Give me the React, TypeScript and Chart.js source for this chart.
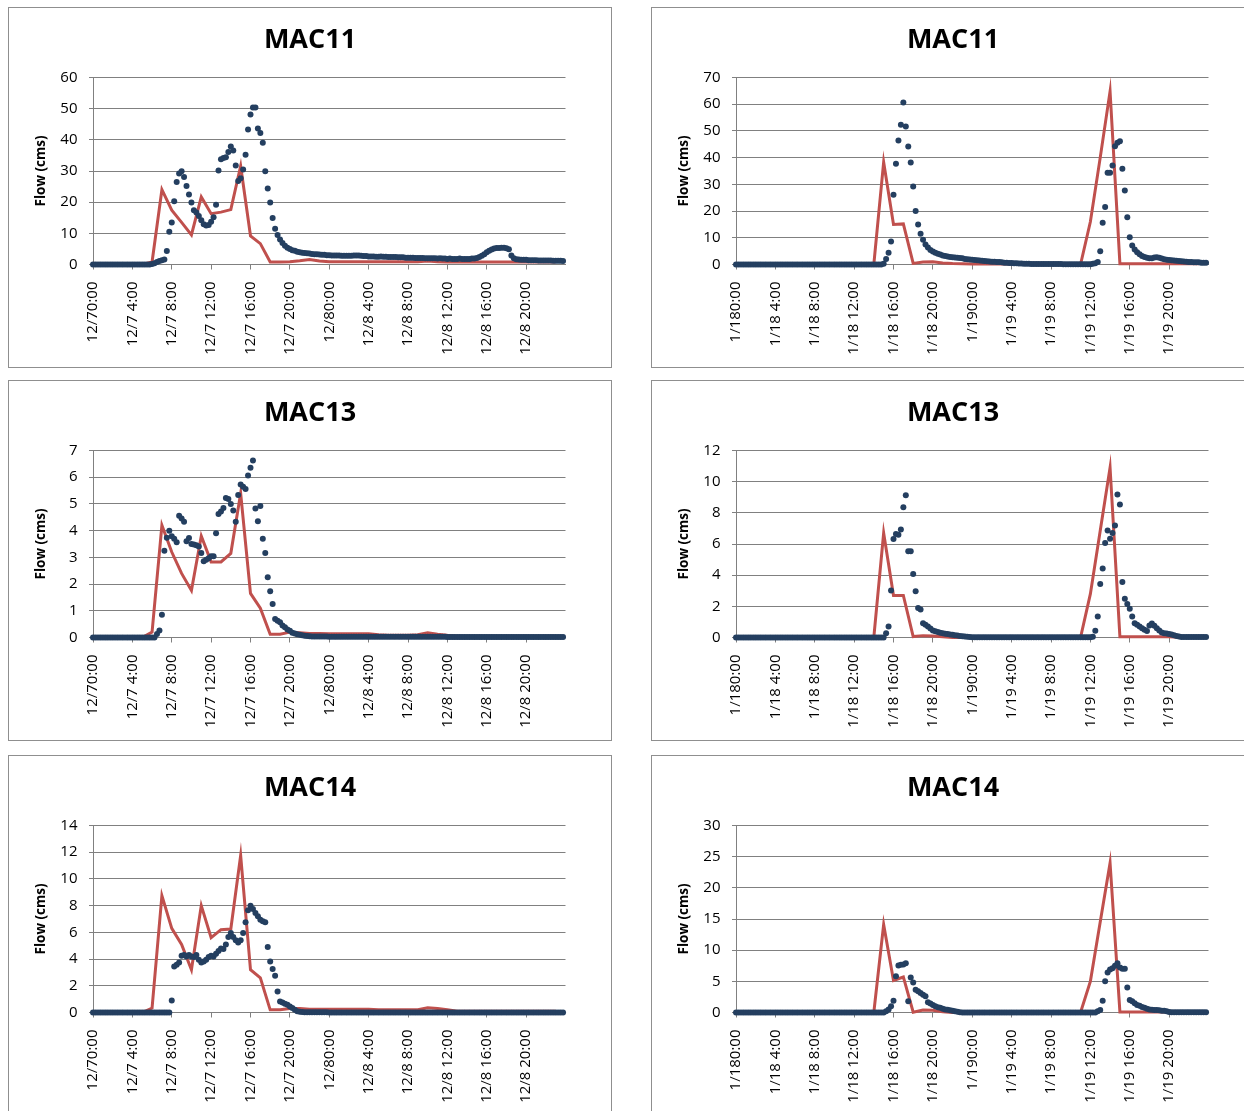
import React, { useEffect, useRef } from 'react';
import { Chart, registerables } from 'chart.js';

Chart.register(...registerables);

// ---- tick labels (one every 4 hours) ----
const DEC_LABELS = ['12/70:00', '12/7 4:00', '12/7 8:00', '12/7 12:00', '12/7 16:00', '12/7 20:00',
  '12/80:00', '12/8 4:00', '12/8 8:00', '12/8 12:00', '12/8 16:00', '12/8 20:00'];
const JAN_LABELS = ['1/180:00', '1/18 4:00', '1/18 8:00', '1/18 12:00', '1/18 16:00', '1/18 20:00',
  '1/190:00', '1/19 4:00', '1/19 8:00', '1/19 12:00', '1/19 16:00', '1/19 20:00'];

// ---- observed flow, 15-minute samples (16 per row = 4 hours) ----
const OBS_MAC11_DEC = [
  0, 0, 0, 0, 0, 0, 0, 0, 0, 0, 0, 0, 0, 0, 0, 0,
  0, 0, 0, 0, 0, 0, 0, 0, 0.2, 0.4, 0.8, 1.1, 1.4, 1.6, 4.3, 10.5,
  13.5, 20.3, 26.5, 29.2, 29.9, 28.1, 25.2, 22.5, 19.9, 17.4, 16.7, 15.6, 14.2, 12.9, 12.5, 12.7,
  13.7, 15.2, 19.2, 30.2, 33.8, 34.2, 34.4, 36.1, 37.9, 36.6, 31.8, 26.8, 27.7, 30.5, 35.2, 43.3,
  48.1, 50.4, 50.4, 43.6, 42.2, 39.1, 29.9, 24.4, 19.9, 14.9, 11.5, 9.5, 8.0, 6.9, 6.0, 5.4,
  5.0, 4.6, 4.4, 4.1, 3.9, 3.8, 3.7, 3.6, 3.5, 3.4, 3.3, 3.3, 3.2, 3.1, 3.1, 3.0,
  3.0, 2.9, 2.9, 2.9, 2.9, 2.8, 2.8, 2.8, 2.8, 2.8, 2.9, 2.9, 2.9, 2.8, 2.7, 2.7,
  2.6, 2.6, 2.6, 2.5, 2.5, 2.6, 2.5, 2.5, 2.4, 2.4, 2.4, 2.4, 2.3, 2.3, 2.3, 2.2,
  2.2, 2.2, 2.2, 2.1, 2.1, 2.1, 2.1, 2.0, 2.0, 2.0, 2.0, 2.0, 1.9, 2.0, 1.9, 1.9,
  1.8, 1.9, 1.8, 1.8, 1.8, 1.9, 1.8, 1.8, 1.8, 1.8, 1.9, 1.9, 2.1, 2.4, 2.8, 3.3,
  3.9, 4.4, 4.8, 5.1, 5.3, 5.3, 5.4, 5.4, 5.2, 4.9, 2.9, 2.0, 1.7, 1.6, 1.5, 1.5,
  1.5, 1.4, 1.4, 1.4, 1.4, 1.3, 1.3, 1.3, 1.3, 1.3, 1.3, 1.2, 1.2, 1.2, 1.2, 1.1,
];
const OBS_MAC11_JAN = [
  0, 0, 0, 0, 0, 0, 0, 0, 0, 0, 0, 0, 0, 0, 0, 0,
  0, 0, 0, 0, 0, 0, 0, 0, 0, 0, 0, 0, 0, 0, 0, 0,
  0, 0, 0, 0, 0, 0, 0, 0, 0, 0, 0, 0, 0, 0, 0, 0,
  0, 0, 0, 0, 0, 0, 0, 0, 0, 0, 0, 0, 0.3, 2.1, 4.4, 8.6,
  26.1, 37.7, 46.4, 52.3, 60.6, 51.7, 44.2, 38.2, 29.2, 20.0, 15.0, 11.5, 9.3, 7.5, 6.4, 5.4,
  4.9, 4.4, 4.0, 3.7, 3.4, 3.2, 3.0, 2.8, 2.7, 2.6, 2.5, 2.4, 2.3, 2.1, 2.0, 1.9,
  1.8, 1.7, 1.6, 1.5, 1.4, 1.3, 1.2, 1.1, 1.0, 1.0, 0.9, 0.9, 0.8, 0.7, 0.7, 0.6,
  0.6, 0.5, 0.5, 0.4, 0.4, 0.3, 0.3, 0.3, 0.2, 0.2, 0.2, 0.2, 0.2, 0.2, 0.2, 0.2,
  0.2, 0.2, 0.2, 0.2, 0.2, 0.1, 0.1, 0.1, 0.1, 0.1, 0.1, 0.1, 0.1, 0.1, 0.1, 0.1,
  0.1, 0.3, 0.5, 0.9, 5.0, 15.6, 21.5, 34.3, 34.3, 37.1, 44.3, 45.6, 46.1, 35.8, 27.7, 17.7,
  10.2, 7.1, 5.6, 4.6, 3.8, 3.2, 2.8, 2.5, 2.3, 2.3, 2.6, 2.7, 2.5, 2.2, 2.0, 1.8,
  1.7, 1.6, 1.5, 1.4, 1.3, 1.2, 1.1, 1.0, 0.9, 0.9, 0.8, 0.8, 0.8, 0.7, 0.7, 0.7,
];
const OBS_MAC13_DEC = [
  0, 0, 0, 0, 0, 0, 0, 0, 0, 0, 0, 0, 0, 0, 0, 0,
  0, 0, 0, 0, 0, 0, 0, 0, 0, 0, 0.13, 0.26, 0.85, 3.25, 3.73, 4.0,
  3.79, 3.7, 3.57, 4.56, 4.45, 4.33, 3.6, 3.72, 3.5, 3.48, 3.45, 3.41, 3.16, 2.85, 2.91, 2.97,
  3.04, 3.04, 3.9, 4.62, 4.72, 4.85, 5.22, 5.18, 5.0, 4.75, 4.33, 5.33, 5.73, 5.64, 5.56, 6.06,
  6.35, 6.63, 4.83, 4.35, 4.92, 3.7, 3.16, 2.26, 1.73, 1.25, 0.69, 0.63, 0.57, 0.45, 0.38, 0.3,
  0.25, 0.18, 0.15, 0.12, 0.1, 0.08, 0.07, 0.06, 0.05, 0.04, 0.04, 0.04, 0.04, 0.04, 0.04, 0.04,
  0.03, 0.03, 0.03, 0.03, 0.03, 0.03, 0.03, 0.03, 0.03, 0.03, 0.03, 0.03, 0.03, 0.03, 0.03, 0.03,
  0.03, 0.03, 0.03, 0.03, 0.03, 0.03, 0.03, 0.03, 0.03, 0.03, 0.03, 0.03, 0.03, 0.03, 0.03, 0.03,
  0.03, 0.03, 0.03, 0.03, 0.03, 0.03, 0.03, 0.03, 0.03, 0.03, 0.03, 0.03, 0.03, 0.03, 0.03, 0.03,
  0.02, 0.02, 0.02, 0.02, 0.02, 0.02, 0.02, 0.02, 0.02, 0.02, 0.02, 0.02, 0.02, 0.02, 0.02, 0.02,
  0.02, 0.02, 0.02, 0.02, 0.02, 0.02, 0.02, 0.02, 0.02, 0.02, 0.02, 0.02, 0.02, 0.02, 0.02, 0.02,
  0.02, 0.02, 0.02, 0.02, 0.02, 0.02, 0.02, 0.02, 0.02, 0.02, 0.02, 0.02, 0.02, 0.02, 0.02, 0.02,
];
const OBS_MAC13_JAN = [
  0, 0, 0, 0, 0, 0, 0, 0, 0, 0, 0, 0, 0, 0, 0, 0,
  0, 0, 0, 0, 0, 0, 0, 0, 0, 0, 0, 0, 0, 0, 0, 0,
  0, 0, 0, 0, 0, 0, 0, 0, 0, 0, 0, 0, 0, 0, 0, 0,
  0, 0, 0, 0, 0, 0, 0, 0, 0, 0, 0, 0, 0, 0.28, 0.71, 3.02,
  6.32, 6.64, 6.6, 6.93, 8.36, 9.13, 5.53, 5.53, 4.07, 2.96, 1.9, 1.8, 0.92, 0.82, 0.7, 0.57,
  0.45, 0.4, 0.35, 0.3, 0.27, 0.24, 0.22, 0.2, 0.18, 0.15, 0.13, 0.1, 0.08, 0.06, 0.05, 0.03,
  0.02, 0.02, 0.02, 0.02, 0.02, 0.02, 0.02, 0.02, 0.02, 0.02, 0.02, 0.02, 0.02, 0.02, 0.02, 0.02,
  0.02, 0.02, 0.02, 0.02, 0.02, 0.02, 0.02, 0.02, 0.02, 0.02, 0.02, 0.02, 0.02, 0.02, 0.02, 0.02,
  0.02, 0.02, 0.02, 0.02, 0.02, 0.02, 0.02, 0.02, 0.02, 0.02, 0.02, 0.02, 0.02, 0.02, 0.02, 0.02,
  0.02, 0.05, 0.43, 1.35, 3.43, 4.42, 6.07, 6.86, 6.34, 6.7, 7.18, 9.17, 8.53, 3.56, 2.49, 2.15,
  1.85, 1.35, 0.92, 0.82, 0.71, 0.6, 0.5, 0.42, 0.77, 0.9, 0.75, 0.6, 0.45, 0.32, 0.28, 0.25,
  0.22, 0.2, 0.15, 0.1, 0.06, 0.03, 0.03, 0.03, 0.03, 0.03, 0.03, 0.03, 0.03, 0.03, 0.03, 0.03,
];
const OBS_MAC14_DEC = [
  0, 0, 0, 0, 0, 0, 0, 0, 0, 0, 0, 0, 0, 0, 0, 0,
  0, 0, 0, 0, 0, 0, 0, 0, 0, 0, 0, 0, 0, 0, 0, 0,
  0.9, 3.45, 3.58, 3.75, 4.25, 4.3, 4.2, 4.3, 4.2, 4.15, 4.3, 3.95, 3.75, 3.82, 3.95, 4.15,
  4.25, 4.2, 4.4, 4.6, 4.8, 4.75, 5.1, 5.65, 5.95, 5.65, 5.4, 5.25, 5.4, 5.95, 6.75, 7.65,
  8.0, 7.75, 7.45, 7.2, 6.95, 6.83, 6.75, 4.9, 3.82, 3.25, 2.75, 1.58, 0.83, 0.75, 0.65, 0.58,
  0.45, 0.33, 0.2, 0.1, 0.06, 0.04, 0.02, 0.02, 0.02, 0.02, 0.02, 0.02, 0.02, 0.02, 0.02, 0.02,
  0, 0, 0, 0, 0, 0, 0, 0, 0, 0, 0, 0, 0, 0, 0, 0,
  0, 0, 0, 0, 0, 0, 0, 0, 0, 0, 0, 0, 0, 0, 0, 0,
  0, 0, 0, 0, 0, 0, 0, 0, 0, 0, 0, 0, 0, 0, 0, 0,
  0, 0, 0, 0, 0, 0, 0, 0, 0, 0, 0, 0, 0, 0, 0, 0,
  0, 0, 0, 0, 0, 0, 0, 0, 0, 0, 0, 0, 0, 0, 0, 0,
  0, 0, 0, 0, 0, 0, 0, 0, 0, 0, 0, 0, 0, 0, 0, 0,
];
const OBS_MAC14_JAN = [
  0, 0, 0, 0, 0, 0, 0, 0, 0, 0, 0, 0, 0, 0, 0, 0,
  0, 0, 0, 0, 0, 0, 0, 0, 0, 0, 0, 0, 0, 0, 0, 0,
  0, 0, 0, 0, 0, 0, 0, 0, 0, 0, 0, 0, 0, 0, 0, 0,
  0, 0, 0, 0, 0, 0, 0, 0, 0, 0, 0, 0, 0, 0.2, 0.5, 1.0,
  1.9, 5.8, 7.56, 7.66, 7.7, 7.9, 1.8, 5.6, 4.82, 3.64, 3.4, 3.13, 2.86, 2.6, 1.64, 1.43,
  1.2, 1.0, 0.85, 0.75, 0.6, 0.5, 0.45, 0.35, 0.3, 0.2, 0.12, 0.05, 0, 0, 0, 0,
  0, 0, 0, 0, 0, 0, 0, 0, 0, 0, 0, 0, 0, 0, 0, 0,
  0, 0, 0, 0, 0, 0, 0, 0, 0, 0, 0, 0, 0, 0, 0, 0,
  0, 0, 0, 0, 0, 0, 0, 0, 0, 0, 0, 0, 0, 0, 0, 0,
  0, 0, 0, 0.2, 0.4, 1.9, 5.0, 6.4, 6.9, 7.1, 7.5, 7.9, 7.2, 7.0, 7.0, 4.0,
  2.0, 1.8, 1.5, 1.2, 1.1, 0.9, 0.75, 0.6, 0.5, 0.45, 0.4, 0.4, 0.35, 0.3, 0.3, 0.2,
  0.1, 0.05, 0.05, 0.05, 0.05, 0.05, 0.05, 0.05, 0.05, 0.05, 0.05, 0.05, 0.05, 0.05, 0.05, 0.05,
];

// ---- simulated flow, hourly (12 per row) ----
const SIM_MAC11_DEC = [
  0, 0, 0, 0, 0, 0, 0.8, 24.0, 17.4, 13.5, 9.5, 21.7,
  16.3, 16.8, 17.6, 31.6, 9.2, 6.7, 0.8, 0.8, 0.9, 1.2, 1.6, 1.1,
  0.9, 0.9, 0.9, 0.9, 0.9, 0.9, 0.9, 0.9, 0.9, 0.9, 1.1, 0.9,
  0.8, 0.8, 0.8, 0.8, 0.8, 0.8, 0.8, 0.8, 0.8, 0.8, 0.8, 0.8,
];
const SIM_MAC11_JAN = [
  0, 0, 0, 0, 0, 0, 0, 0, 0, 0, 0, 0,
  0, 0, 0, 38.3, 15.0, 15.2, 0.4, 0.9, 1.0, 0.6, 0.4, 0.3,
  0.2, 0.2, 0.2, 0.2, 0.2, 0.1, 0.1, 0.1, 0.1, 0.1, 0.1, 0,
  16.0, 40.0, 64.8, 0.3, 0.3, 0.3, 0.3, 0.3, 0.3, 0.3, 0.3, 0.3,
];
const SIM_MAC13_DEC = [
  0, 0, 0, 0, 0, 0, 0.2, 4.2, 3.2, 2.4, 1.76, 3.8,
  2.83, 2.83, 3.15, 5.4, 1.65, 1.1, 0.12, 0.12, 0.2, 0.18, 0.15, 0.15,
  0.14, 0.14, 0.14, 0.14, 0.14, 0.1, 0.08, 0.08, 0.08, 0.1, 0.18, 0.12,
  0.08, 0.05, 0.05, 0.05, 0.05, 0.05, 0.05, 0.05, 0.05, 0.05, 0.05, 0.05,
];
const SIM_MAC13_JAN = [
  0, 0, 0, 0, 0, 0, 0, 0, 0, 0, 0, 0,
  0, 0, 0, 6.7, 2.7, 2.7, 0.06, 0.12, 0.1, 0.05, 0, 0,
  0, 0, 0, 0, 0, 0, 0, 0, 0, 0, 0, 0,
  2.8, 6.85, 10.9, 0.05, 0.05, 0.05, 0.05, 0.05, 0.05, 0.02, 0.02, 0.02,
];
const SIM_MAC14_DEC = [
  0, 0, 0, 0, 0, 0, 0.33, 8.75, 6.3, 5.1, 3.2, 8.0,
  5.6, 6.2, 6.25, 11.75, 3.2, 2.6, 0.2, 0.2, 0.3, 0.3, 0.25, 0.25,
  0.25, 0.25, 0.25, 0.25, 0.25, 0.2, 0.2, 0.2, 0.2, 0.2, 0.35, 0.3,
  0.2, 0.1, 0.1, 0.1, 0.1, 0.1, 0.1, 0.1, 0.1, 0.1, 0.1, 0.1,
];
const SIM_MAC14_JAN = [
  0, 0, 0, 0, 0, 0, 0, 0, 0, 0, 0, 0,
  0, 0, 0, 14.1, 5.15, 5.7, 0.05, 0.4, 0.35, 0.1, 0, 0,
  0, 0, 0, 0, 0, 0, 0, 0, 0, 0, 0, 0,
  5.0, 14.5, 24.0, 0.1, 0.1, 0.1, 0.1, 0.1, 0.05, 0.05, 0.05, 0.05,
];

const BLUE = '#243f60';
const RED = '#c0504d';
const GRID = '#808080';
const FONT = "'Open Sans', sans-serif";

const CANVAS_W = 602;
const CANVAS_H = 359;

type PanelProps = {
  title: string;
  labels: string[];
  obs: number[];
  sim: number[];
  yMax: number;
  yStep: number;
  left: number;
  top: number;
};

function Panel({ title, labels, obs, sim, yMax, yStep, left, top }: PanelProps) {
  const ref = useRef<HTMLCanvasElement | null>(null);

  useEffect(() => {
    if (!ref.current) return;
    const chart = new Chart(ref.current, {
      type: 'scatter',
      data: {
        datasets: [
          {
            label: 'Observed',
            data: obs.map((y, i) => ({ x: i / 4, y })),
            showLine: false,
            pointRadius: 3,
            pointHoverRadius: 3,
            pointBackgroundColor: BLUE,
            pointBorderColor: BLUE,
            pointBorderWidth: 0,
            backgroundColor: BLUE,
            borderColor: BLUE,
            order: 0,
            clip: 8,
          } as any,
          {
            label: 'Simulated',
            data: sim.map((y, h) => ({ x: h, y })),
            showLine: true,
            borderColor: RED,
            backgroundColor: RED,
            borderWidth: 3,
            pointRadius: 0,
            pointHoverRadius: 0,
            tension: 0,
            order: 1,
            clip: 8,
          } as any,
        ],
      },
      options: {
        responsive: false,
        animation: false,
        devicePixelRatio: 1,
        events: [],
        layout: { padding: 0 },
        plugins: {
          legend: { display: false },
          tooltip: { enabled: false },
          title: {
            display: true,
            text: title,
            color: '#000',
            font: { family: FONT, size: 27, weight: 'bold' },
            padding: { top: 16, bottom: 21.1 },
          },
        },
        scales: {
          x: {
            type: 'linear',
            min: 0,
            max: 48,
            afterBuildTicks: (s: any) => {
              s.ticks = labels.map((_, k) => ({ value: k * 4 }));
            },
            afterFit: (s: any) => {
              s.height = 102.5;
            },
            ticks: {
              autoSkip: false,
              maxRotation: 90,
              minRotation: 90,
              padding: 12,
              color: '#000',
              font: { family: FONT, size: 15 },
              callback: (v: any) => labels[Math.round(Number(v) / 4)] ?? '',
            },
            grid: { drawOnChartArea: false, drawTicks: true, tickLength: 5, color: GRID, lineWidth: 1 },
            border: { display: true, color: GRID, width: 1 },
          },
          y: {
            min: 0,
            max: yMax,
            afterFit: (s: any) => {
              s.width = 84;
            },
            ticks: { stepSize: yStep, padding: 11.5, color: '#000', font: { family: FONT, size: 15 } },
            grid: { color: GRID, lineWidth: 1, drawTicks: true, tickLength: 4 },
            border: { display: true, color: GRID, width: 1 },
            title: {
              display: true,
              text: 'Flow (cms)',
              color: '#000',
              font: { family: FONT, size: 13.5, weight: 'bold' },
              padding: { top: 24, bottom: 0 },
            },
          },
          // empty right-hand margin box, so the chart title stays centred on the whole panel
          yRight: {
            position: 'right',
            display: true,
            min: 0,
            max: yMax,
            afterFit: (s: any) => {
              s.width = 45.5;
            },
            ticks: { display: false },
            grid: { display: false, drawTicks: false, drawOnChartArea: false },
            border: { display: false },
          },
        },
      } as any,
    });
    return () => chart.destroy();
  }, [title, labels, obs, sim, yMax, yStep]);

  return (
    <div
      style={{
        position: 'absolute',
        left,
        top,
        width: CANVAS_W,
        height: CANVAS_H,
        border: '1px solid #8f8f8f',
        background: '#fff',
      }}
    >
      <canvas ref={ref} width={CANVAS_W} height={CANVAS_H} style={{ display: 'block' }} />
    </div>
  );
}

export default function App() {
  const colLeft = [8, 651];
  const rowTop = [7, 380, 755];
  return (
    <div
      style={{
        position: 'absolute',
        left: 0,
        top: 0,
        width: 1244,
        height: 1111,
        overflow: 'hidden',
        background: '#fff',
      }}
    >
      <Panel title="MAC11" labels={DEC_LABELS} obs={OBS_MAC11_DEC} sim={SIM_MAC11_DEC} yMax={60} yStep={10} left={colLeft[0]} top={rowTop[0]} />
      <Panel title="MAC11" labels={JAN_LABELS} obs={OBS_MAC11_JAN} sim={SIM_MAC11_JAN} yMax={70} yStep={10} left={colLeft[1]} top={rowTop[0]} />
      <Panel title="MAC13" labels={DEC_LABELS} obs={OBS_MAC13_DEC} sim={SIM_MAC13_DEC} yMax={7} yStep={1} left={colLeft[0]} top={rowTop[1]} />
      <Panel title="MAC13" labels={JAN_LABELS} obs={OBS_MAC13_JAN} sim={SIM_MAC13_JAN} yMax={12} yStep={2} left={colLeft[1]} top={rowTop[1]} />
      <Panel title="MAC14" labels={DEC_LABELS} obs={OBS_MAC14_DEC} sim={SIM_MAC14_DEC} yMax={14} yStep={2} left={colLeft[0]} top={rowTop[2]} />
      <Panel title="MAC14" labels={JAN_LABELS} obs={OBS_MAC14_JAN} sim={SIM_MAC14_JAN} yMax={30} yStep={5} left={colLeft[1]} top={rowTop[2]} />
    </div>
  );
}
